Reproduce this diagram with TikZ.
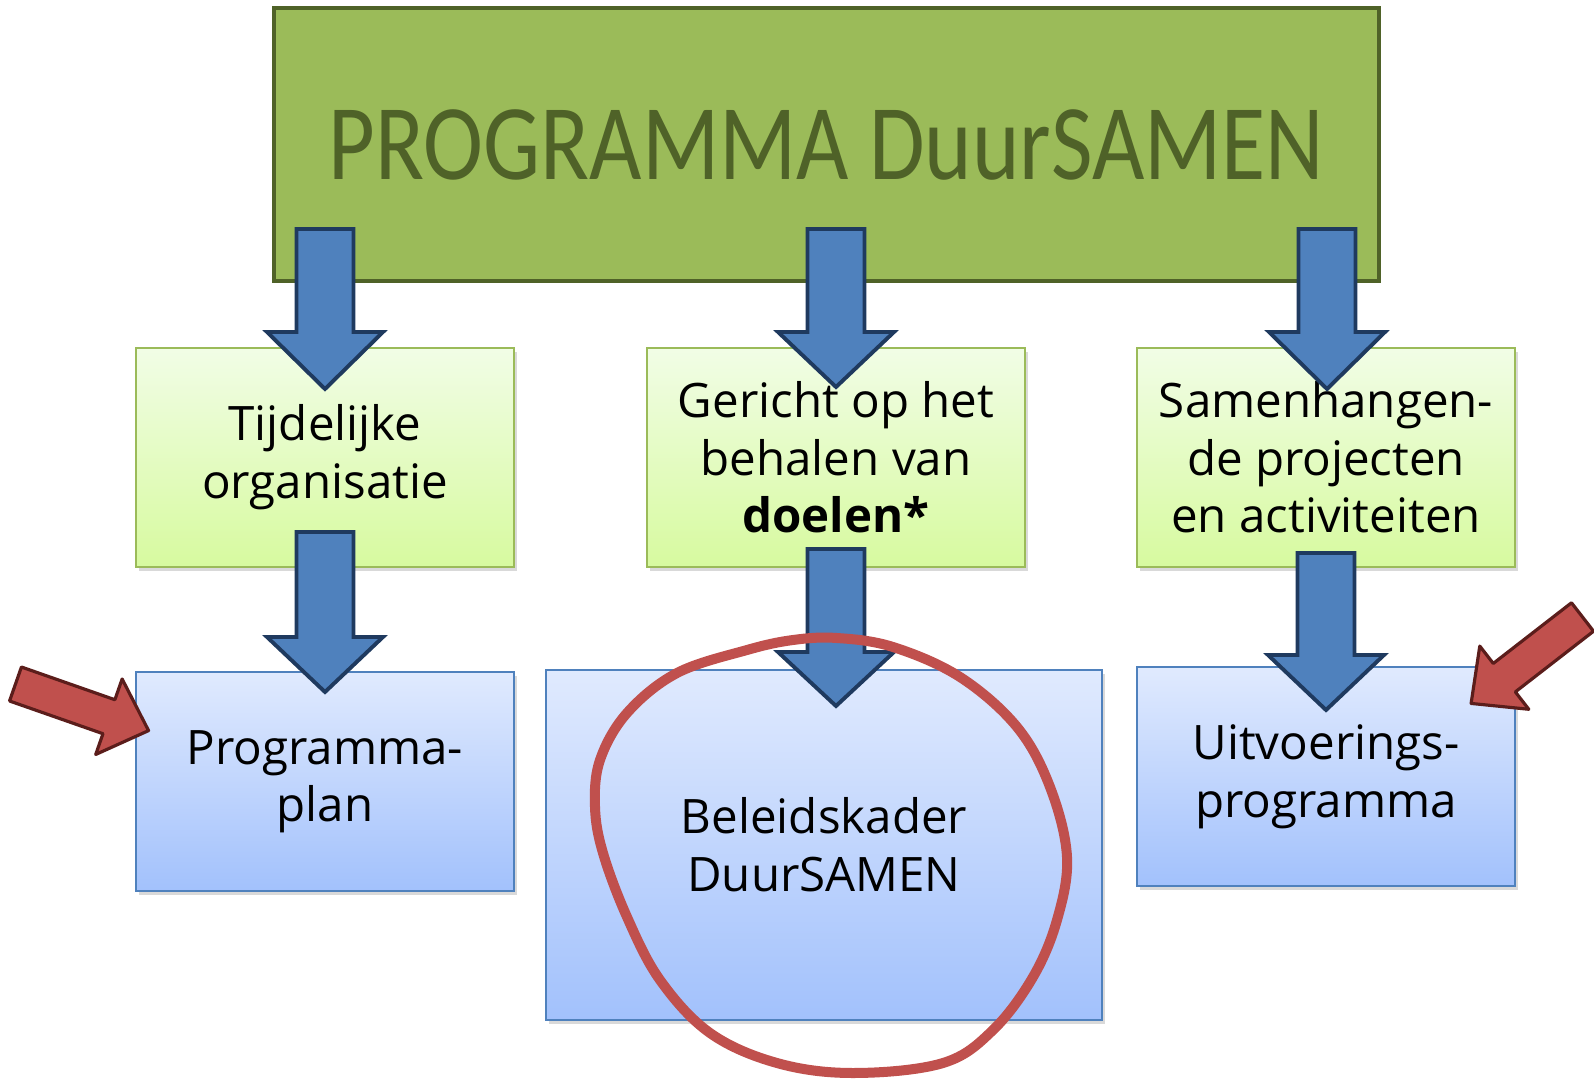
\documentclass[tikz,border=0pt]{standalone}
\usepackage{graphicx}
\usepackage{fontspec}
\setmainfont{Open Sans}
\newfontfamily\titlefont{Carlito}
\usetikzlibrary{shadows, positioning}
\definecolor{progfill}{HTML}{9BBB59}
\definecolor{progline}{HTML}{4F6228}
\definecolor{arrowfill}{HTML}{4F81BD}
\definecolor{arrowline}{HTML}{1F3A5F}
\definecolor{redfill}{HTML}{C0504D}
\definecolor{redline}{HTML}{5B1D1B}
\definecolor{goaltop}{HTML}{F1FDE6}
\definecolor{goalbot}{HTML}{D7FA9F}
\definecolor{goalline}{HTML}{9BBB59}
\definecolor{plantop}{HTML}{E0EAFE}
\definecolor{planbot}{HTML}{A2C1FC}
\definecolor{planline}{HTML}{4F81BD}

\begin{document}
\begin{tikzpicture}[
  x=0.01cm, y=-0.01cm,
  inner sep=0pt,
  goalbox/.style={draw=goalline, line width=0.6pt, top color=goaltop, bottom color=goalbot,
    minimum width=3.78cm, minimum height=2.19cm, align=center,
    font=\fontsize{13.5}{16.4}\selectfont,
    drop shadow={opacity=0.3, shadow xshift=0.03cm, shadow yshift=-0.04cm}},
  planbox/.style={goalbox, draw=planline, top color=plantop, bottom color=planbot},
  blockarrow/.style={draw=arrowline, fill=arrowfill, line width=1.1pt, line join=miter},
  redarrow/.style={draw=redline, fill=redfill, line width=0.9pt, line join=round}]

  \useasboundingbox (0,0) rectangle (1594,1079);

  \node[draw=progline, fill=progfill, line width=1pt, minimum width=11.04cm, minimum height=2.73cm,
    text=progline, font=\titlefont\fontsize{30.6}{36}\selectfont] (prog) at (826.5,144.5)
    {\scalebox{0.84}[1]{PROGRAMMA DuurSAMEN}};

  \node[goalbox] (tijd) at (325,457.5) {Tijdelijke\\organisatie};
  \node[goalbox] (doel) at (836,457.5) {Gericht op het\\behalen van\\\textbf{doelen*}};
  \node[goalbox] (samen) at (1326,457.5) {Samenhangen-\\de projecten\\en activiteiten};

  \node[planbox, below=1.03cm of tijd] (pplan) {Programma-\\plan};
  \node[planbox, minimum width=5.56cm, minimum height=3.5cm] (kader) at (824,845) {Beleidskader\\DuurSAMEN};
  \node[planbox, below=0.98cm of samen] (uitv) {Uitvoerings-\\programma};

  \foreach \x/\ya/\yb/\yc in {325/229/332/389, 836/229/332/387, 1327/229/332/389,
                              325/532/637/692, 836/549/652/706, 1326/553/655/710}
    \draw[blockarrow] (\x-28.5,\ya) -- (\x+28.5,\ya) -- (\x+28.5,\yb) -- (\x+58,\yb)
      -- (\x,\yc) -- (\x-58,\yb) -- (\x-28.5,\yb) -- cycle;

  \foreach \sx/\sy/\ang in {15.5/684/-19.3, 1582.5/617/-142.2}
    \draw[redarrow, shift={(\sx,\sy)}, rotate=\ang] (0,-18) -- (99,-18) -- (99,-40)
      -- (141,0) -- (99,40) -- (99,18) -- (0,18) -- cycle;

  \draw[redfill, line width=0.1cm] plot[smooth cycle, tension=0.6] coordinates {
    (837,638) (893,647) (960,677) (1017,727) (1050,787) (1067,857) (1057,920) (1033,977)
    (993,1030) (943,1063) (853,1073) (777,1063) (710,1033) (660,980) (627,917) (603,853)
    (595,807) (600,760) (627,713) (677,673) (747,650) (793,640)};
\end{tikzpicture}
\end{document}
